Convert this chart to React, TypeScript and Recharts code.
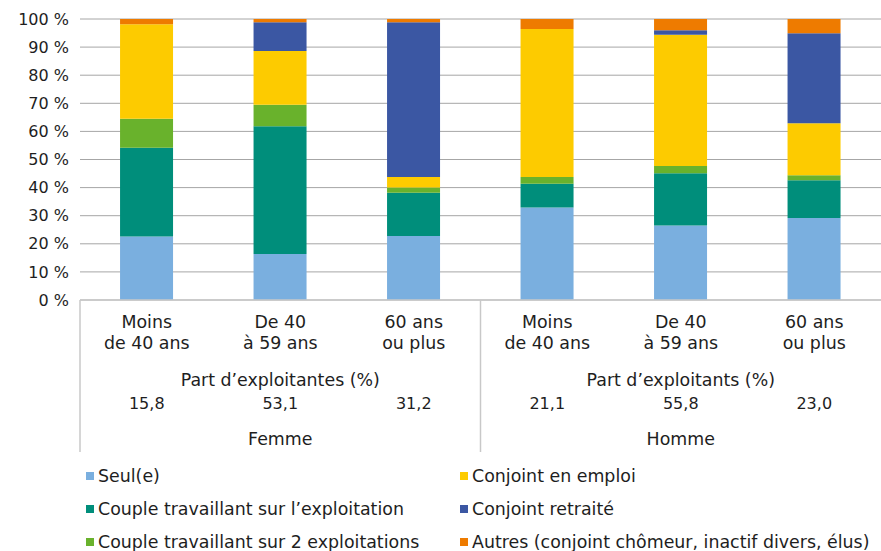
import React from 'react';
import { BarChart, Bar, XAxis, YAxis, CartesianGrid, Legend } from 'recharts';

const categories = ['Moins|de 40 ans', 'De 40|à 59 ans', '60 ans|ou plus', 'Moins|de 40 ans', 'De 40|à 59 ans', '60 ans|ou plus'];
const sexes = ['Femme', 'Femme', 'Femme', 'Homme', 'Homme', 'Homme'];
const shares = ['15,8', '53,1', '31,2', '21,1', '55,8', '23,0'];
const groupTitles = ['Part d’exploitantes (%)', 'Part d’exploitants (%)'];

const seul = [22.6, 16.4, 22.8, 32.9, 26.5, 29.2];
const coupleExpl = [31.6, 45.4, 15.4, 8.5, 18.6, 13.4];
const couple2 = [10.3, 7.7, 1.8, 2.4, 2.6, 1.8];
const emploi = [33.6, 19.1, 3.8, 52.6, 46.7, 18.5];
const retraite = [0, 10.2, 55.0, 0, 1.6, 32.0];
const autres = [1.9, 1.2, 1.2, 3.6, 4.0, 5.1];

const yTicks = [0, 10, 20, 30, 40, 50, 60, 70, 80, 90, 100];

const seriesDefs = [
  { key: 'seul', name: 'Seul(e)', color: '#7AAFDF' },
  { key: 'coupleExpl', name: 'Couple travaillant sur l’exploitation', color: '#008E7B' },
  { key: 'couple2', name: 'Couple travaillant sur 2 exploitations', color: '#69B22C' },
  { key: 'emploi', name: 'Conjoint en emploi', color: '#FDCB00' },
  { key: 'retraite', name: 'Conjoint retraité', color: '#3B57A3' },
  { key: 'autres', name: 'Autres (conjoint chômeur, inactif divers, élus)', color: '#EE7B00' },
];

const data = categories.map((c, i) => ({
  id: String(i),
  cat: c,
  seul: seul[i],
  coupleExpl: coupleExpl[i],
  couple2: couple2[i],
  emploi: emploi[i],
  retraite: retraite[i],
  autres: autres[i],
}));

const W = 881;
const H = 551;
const PLOT_LEFT = 80;
const BAND = (W - PLOT_LEFT) / categories.length;
const FONT = '"DejaVu Sans", sans-serif';
const TEXT = '#1e1e1e';
const FS_NUM = 16;
const FS_TXT = 17.4;

const CatTick = (props: any) => {
  const { x, y, payload } = props;
  const i = Number(payload.value);
  const lines = categories[i].split('|');
  const group = Math.floor(i / 3);
  return (
    <g>
      {i % 3 === 0 && (
        <line x1={x - BAND / 2} x2={x - BAND / 2} y1={y} y2={y + 152} stroke="#c8c8c8" strokeWidth={1.5} />
      )}
      {lines.map((l, k) => (
        <text key={k} x={x} y={y + 22 + k * 21} textAnchor="middle" dominantBaseline="central" fontSize={FS_TXT} fill={TEXT} fontFamily={FONT}>
          {l}
        </text>
      ))}
      <text x={x} y={y + 103} textAnchor="middle" dominantBaseline="central" fontSize={FS_NUM} fill={TEXT} fontFamily={FONT}>
        {shares[i]}
      </text>
      {i % 3 === 1 && (
        <>
          <text x={x} y={y + 80} textAnchor="middle" dominantBaseline="central" fontSize={FS_TXT} fill={TEXT} fontFamily={FONT}>
            {groupTitles[group]}
          </text>
          <text x={x} y={y + 139} textAnchor="middle" dominantBaseline="central" fontSize={FS_TXT} fill={TEXT} fontFamily={FONT}>
            {sexes[i]}
          </text>
        </>
      )}
    </g>
  );
};

const LegendContent = (props: any) => {
  const payload = props.payload || [];
  const ordered = seriesDefs.map((s) => {
    const p = payload.find((q: any) => q.dataKey === s.key);
    return { value: p ? p.value : s.name, color: p ? p.color : s.color };
  });
  const col = (items: any[], left: number) => (
    <div style={{ position: 'absolute', left, top: 7 }}>
      {items.map((p: any, k: number) => (
        <div key={k} style={{ height: 32.7, display: 'flex', alignItems: 'center', whiteSpace: 'nowrap' }}>
          <span style={{ display: 'inline-block', width: 8, height: 8, background: p.color, marginRight: 4 }} />
          <span style={{ fontSize: FS_TXT, color: TEXT, fontFamily: FONT }}>{p.value}</span>
        </div>
      ))}
    </div>
  );
  return (
    <div style={{ position: 'relative', width: W, height: 98 }}>
      {col(ordered.slice(0, 3), 86)}
      {col(ordered.slice(3, 6), 460)}
    </div>
  );
};

export default function App() {
  return (
    <div style={{ position: 'absolute', left: 0, top: 0, width: W, height: H, background: '#fff' }}>
      <BarChart width={W} height={H} data={data} margin={{ top: 19, right: 0, bottom: 0, left: 0 }} barCategoryGap="30%">
        <CartesianGrid vertical={false} stroke="#a6a6a6" strokeWidth={1} />
        <XAxis
          dataKey="id"
          height={153}
          tick={<CatTick />}
          tickLine={false}
          tickSize={0}
          tickMargin={0}
          axisLine={{ stroke: '#c8c8c8', strokeWidth: 1.5 }}
          interval={0}
        />
        <YAxis
          domain={[0, 100]}
          ticks={yTicks}
          tickFormatter={(v: number) => `${v} %`}
          axisLine={false}
          tickLine={false}
          width={PLOT_LEFT}
          tickMargin={5}
          tick={{ fontSize: FS_NUM, fill: TEXT, fontFamily: FONT }}
          interval={0}
        />
        <Legend
          verticalAlign="bottom"
          align="left"
          content={<LegendContent />}
          wrapperStyle={{ left: 0, bottom: 0, width: W, height: 98 }}
        />
        {seriesDefs.map((s) => (
          <Bar key={s.key} dataKey={s.key} name={s.name} stackId="a" fill={s.color} isAnimationActive={false} legendType="square" />
        ))}
      </BarChart>
    </div>
  );
}
